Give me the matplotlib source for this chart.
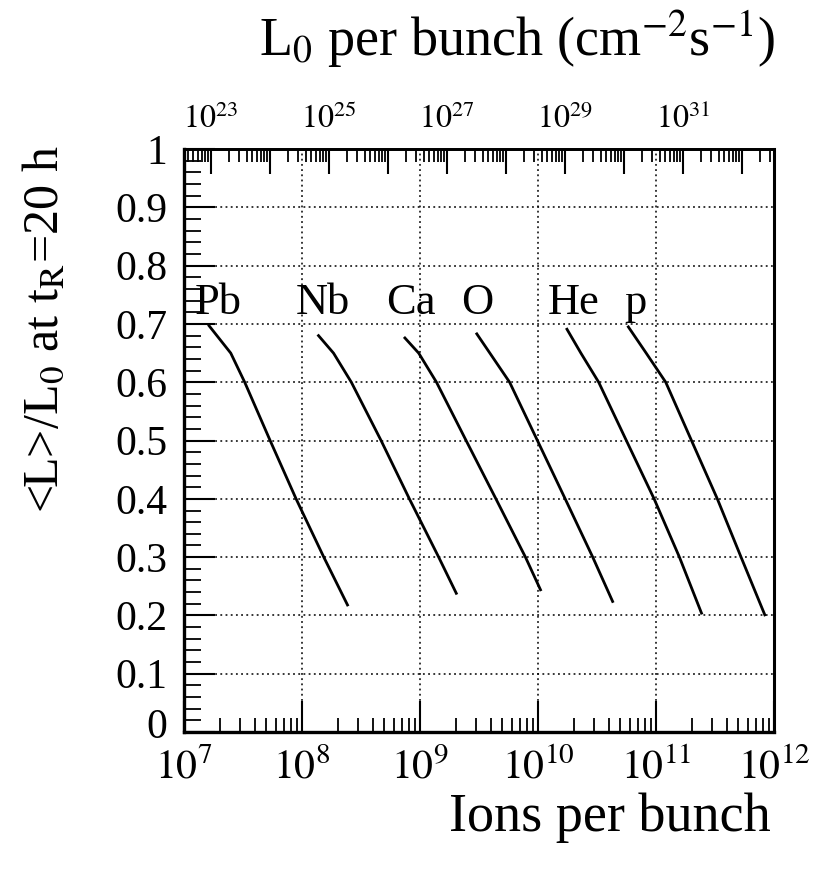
import numpy as np
import matplotlib
matplotlib.use("Agg")
import matplotlib.pyplot as plt
import matplotlib.transforms as mtransforms
from matplotlib.ticker import FixedLocator, FuncFormatter, LogLocator, MultipleLocator, NullFormatter

plt.rcParams['font.family'] = 'serif'
plt.rcParams['font.serif'] = ['Liberation Serif', 'DejaVu Serif']
plt.rcParams['mathtext.fontset'] = 'stix'

# ions per bunch vs <L>/L0
species = ['Pb', 'Nb', 'Ca', 'O', 'He', 'p']
pb_n = [1.63e7, 2.49e7, 3.27e7, 5.37e7, 8.91e7, 1.53e8, 2.43e8]
pb_r = [0.697, 0.65, 0.60, 0.50, 0.40, 0.30, 0.218]
nb_n = [1.38e8, 1.85e8, 2.62e8, 4.68e8, 8.13e8, 1.44e9, 2.03e9]
nb_r = [0.680, 0.65, 0.60, 0.50, 0.40, 0.30, 0.238]
ca_n = [7.45e8, 9.75e8, 1.38e9, 2.46e9, 4.40e9, 7.83e9, 1.05e10]
ca_r = [0.676, 0.65, 0.60, 0.50, 0.40, 0.30, 0.244]
o_n = [3.03e9, 3.91e9, 5.75e9, 9.89e9, 1.70e10, 2.91e10, 4.29e10]
o_r = [0.683, 0.65, 0.60, 0.50, 0.40, 0.30, 0.224]
he_n = [1.76e10, 2.31e10, 3.27e10, 5.61e10, 9.64e10, 1.58e11, 2.43e11]
he_r = [0.691, 0.65, 0.60, 0.50, 0.40, 0.30, 0.204]
p_n = [5.83e10, 8.26e10, 1.21e11, 2.00e11, 3.31e11, 5.26e11, 8.36e11]
p_r = [0.695, 0.65, 0.60, 0.50, 0.40, 0.30, 0.201]

# where the species names sit (left edge of text)
label_n = [1.24e7, 8.9e7, 5.18e8, 2.24e9, 1.20e10, 5.4e10]
label_r = 0.717

# top axis: L0 per bunch ~ N^2
lum_coef = 10 ** 8.54

curves = [(pb_n, pb_r), (nb_n, nb_r), (ca_n, ca_r), (o_n, o_r), (he_n, he_r), (p_n, p_r)]

fig = plt.figure(figsize=(8.27, 8.77), dpi=100)
ax = fig.add_axes([0.2225, 0.1653, 0.7134, 0.6647])

for n, r in curves:
    ax.plot(n, r, color='black', lw=2.0, solid_joinstyle='round')

for name, x in zip(species, label_n):
    ax.text(x, label_r, name, fontsize=32, ha='left', va='baseline')

ax.set_xscale('log')
ax.set_xlim(1e7, 1e12)
ax.set_ylim(0, 1)

ax.xaxis.set_major_locator(LogLocator(base=10, numticks=20))
ax.xaxis.set_minor_locator(LogLocator(base=10, subs=np.arange(2, 10), numticks=100))
ax.xaxis.set_minor_formatter(NullFormatter())
ax.xaxis.set_major_formatter(FuncFormatter(lambda v, p: r'$10^{%d}$' % round(np.log10(v))))

ax.yaxis.set_major_locator(MultipleLocator(0.1))
ax.yaxis.set_minor_locator(MultipleLocator(0.02))
ax.yaxis.set_major_formatter(FuncFormatter(lambda v, p: '%g' % round(v, 1)))

ax.tick_params(axis='x', which='major', direction='in', length=22, width=1.5,
               labelsize=30, pad=12, top=False)
ax.tick_params(axis='x', which='minor', direction='in', length=10, width=1.3, top=False)
ax.tick_params(axis='y', which='major', direction='in', length=22, width=1.5,
               labelsize=30, pad=12, right=False)
ax.tick_params(axis='y', which='minor', direction='in', length=12, width=1.3, right=False)

ax.grid(True, which='major', color='black', linestyle=(0, (1.2, 2.2)), linewidth=1.1)

for side, w in [('left', 2.4), ('bottom', 2.4), ('top', 2.0), ('right', 2.2)]:
    ax.spines[side].set_linewidth(w)

sec = ax.secondary_xaxis('top', functions=(lambda n: lum_coef * n ** 2,
                                           lambda l: np.sqrt(l / lum_coef)))
sec.xaxis.set_major_locator(FixedLocator([10.0 ** k for k in range(23, 33)]))
sec.xaxis.set_minor_locator(LogLocator(base=10, subs=np.arange(2, 10), numticks=100))
sec.xaxis.set_minor_formatter(NullFormatter())
sec.xaxis.set_major_formatter(FuncFormatter(
    lambda v, p: r'$10^{%d}$' % round(np.log10(v)) if round(np.log10(v)) % 2 == 1 and round(np.log10(v)) < 33 else ''))
sec.tick_params(which='major', direction='in', length=18, width=1.5, labelsize=23, pad=10)
sec.tick_params(which='minor', direction='in', length=9, width=1.3)
sec.spines['top'].set_linewidth(2.0)

# nudge the "0" label up a bit so it clears 10^7
fig.canvas.draw()
for lab in ax.get_yticklabels():
    if lab.get_text() == '0':
        lab.set_transform(lab.get_transform() +
                          mtransforms.ScaledTranslation(0, 6 / 72, fig.dpi_scale_trans))

fig.text(0.937, 0.955, r'L$_0$ per bunch (cm$^{-2}$s$^{-1}$)', fontsize=39,
         ha='right', va='center')
fig.text(0.932, 0.067, 'Ions per bunch', fontsize=39, ha='right', va='center')
fig.text(0.054, 0.624, r'<L>/L$_0$ at t$_\mathrm{R}$=20 h', fontsize=36,
         rotation=90, ha='center', va='center')

fig.savefig('out.png', dpi=100)
